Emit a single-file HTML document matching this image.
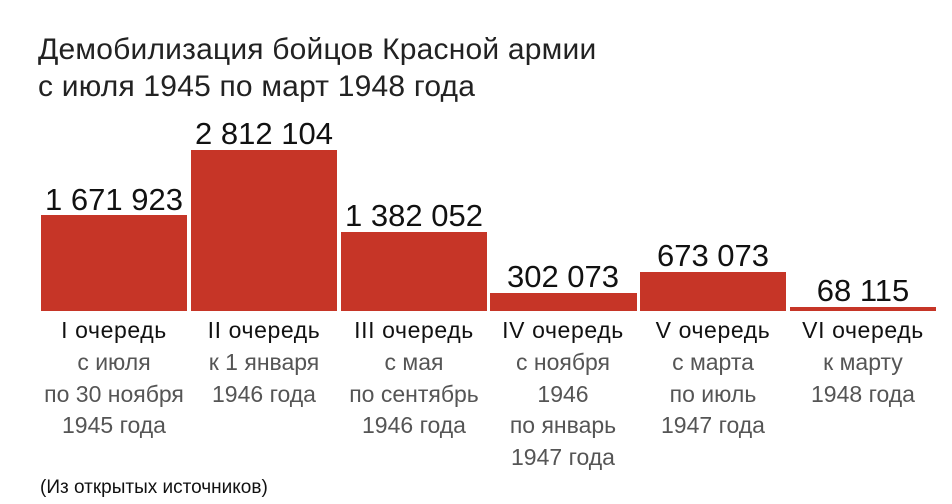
<!DOCTYPE html>
<html><head><meta charset="utf-8"><style>
body{margin:0;width:952px;height:504px;background:#fff;font-family:"Liberation Sans",sans-serif;position:relative;overflow:hidden}
.t{position:absolute;left:38px;font-size:30px;color:#222;letter-spacing:0.2px;white-space:nowrap}
.b{position:absolute;background:#c63527;bottom:193px}
.v{position:absolute;width:190px;text-align:center;font-size:31px;color:#111;letter-spacing:0px;white-space:nowrap}
.c{position:absolute;width:190px;text-align:center;top:315px;white-space:nowrap}
.c .h{font-size:23px;color:#111;line-height:30px;letter-spacing:0.6px}
.c .s{font-size:23px;color:#555;line-height:31.5px;margin-top:2px}
</style></head><body>
<div class="t" style="top:33px">Демобилизация бойцов Красной армии</div>
<div class="t" style="top:70px">с июля 1945 по март 1948 года</div>
<div class="b" style="left:41px;width:146px;top:215px"></div>
<div class="b" style="left:191px;width:146px;top:150px"></div>
<div class="b" style="left:341px;width:146px;top:232px"></div>
<div class="b" style="left:490px;width:147px;top:293px"></div>
<div class="b" style="left:640px;width:146px;top:272px"></div>
<div class="b" style="left:790px;width:146px;top:307px"></div>
<div class="v" style="left:19px;top:182px">1 671 923</div>
<div class="v" style="left:169px;top:116px">2 812 104</div>
<div class="v" style="left:319px;top:198px">1 382 052</div>
<div class="v" style="left:468px;top:259px">302 073</div>
<div class="v" style="left:618px;top:238px">673 073</div>
<div class="v" style="left:768px;top:273px">68 115</div>
<div class="c" style="left:19px"><div class="h">I очередь</div><div class="s">с июля<br>по 30 ноября<br>1945 года</div></div>
<div class="c" style="left:169px"><div class="h">II очередь</div><div class="s">к 1 января<br>1946 года</div></div>
<div class="c" style="left:319px"><div class="h">III очередь</div><div class="s">с мая<br>по сентябрь<br>1946 года</div></div>
<div class="c" style="left:468px"><div class="h">IV очередь</div><div class="s">с ноября<br>1946<br>по январь<br>1947 года</div></div>
<div class="c" style="left:618px"><div class="h">V очередь</div><div class="s">с марта<br>по июль<br>1947 года</div></div>
<div class="c" style="left:768px"><div class="h">VI очередь</div><div class="s">к марту<br>1948 года</div></div>
<div style="position:absolute;left:40px;top:477px;font-size:19px;color:#111;white-space:nowrap">(Из открытых источников)</div>
</body></html>
